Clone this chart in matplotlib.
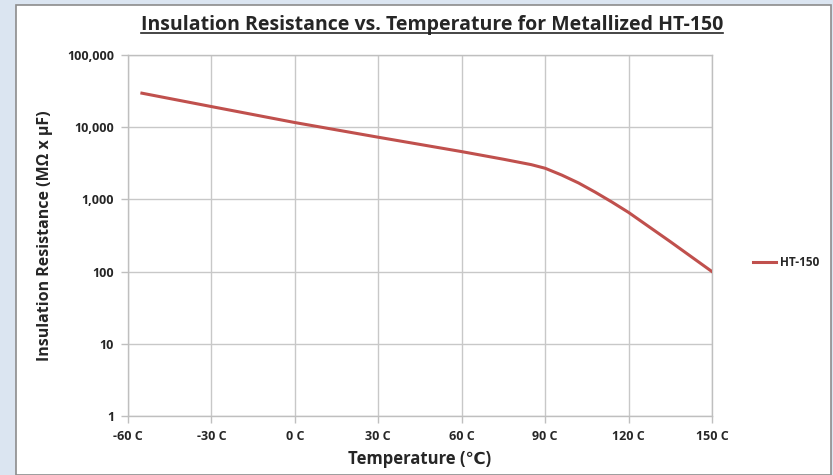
import matplotlib
matplotlib.use('Agg')
import matplotlib.pyplot as plt
from matplotlib.patches import Rectangle
from matplotlib.lines import Line2D
from matplotlib.ticker import FixedLocator, FuncFormatter

# データ
temps = [-55, -30, 0, 30, 60, 75, 85, 90, 96, 102, 108, 114, 120, 135, 150]
ir_ht150 = [29600, 19300, 11600, 7260, 4590, 3600, 3030, 2700, 2170, 1690, 1260, 920, 660, 260, 100]

x_ticks = [-60, -30, 0, 30, 60, 90, 120, 150]
x_labels = ['-60 C', '-30 C', '0 C', '30 C', '60 C', '90 C', '120 C', '150 C']
y_ticks = [1, 10, 100, 1000, 10000, 100000]

title = 'Insulation Resistance vs. Temperature for Metallized HT-150'
font = 'Open Sans'
txt_col = '#262626'

fig = plt.figure(figsize=(8.33, 4.75), dpi=100)
fig.patch.set_facecolor('#dbe5f1')
# 白いパネル
fig.patches.append(Rectangle((16 / 833, 0), 815 / 833, 1 - 5 / 475, transform=fig.transFigure,
                             facecolor='white', edgecolor='#8c8c8c', linewidth=1.2, zorder=-5))

ax = fig.add_axes([128 / 833, 1 - 416 / 475, 584 / 833, 361 / 475])
ax.set_zorder(2)
ax.set_facecolor('white')
ax.plot(temps, ir_ht150, color='#c0504d', linewidth=2.2, label='HT-150', zorder=3)

ax.set_yscale('log')
ax.set_xlim(-60, 150)
ax.set_ylim(1, 100000)
ax.xaxis.set_major_locator(FixedLocator(x_ticks))
ax.set_xticklabels(x_labels)
ax.yaxis.set_major_locator(FixedLocator(y_ticks))
ax.yaxis.set_minor_locator(FixedLocator([]))
ax.yaxis.set_major_formatter(FuncFormatter(lambda v, p: f'{int(round(v)):,}'))

ax.grid(True, color='#c8c8c8', linewidth=1.0)
for s in ax.spines.values():
    s.set_color('#bfbfbf')
    s.set_linewidth(1.0)
ax.tick_params(axis='both', which='major', length=5, color='#bfbfbf', width=1.0,
               labelsize=9, labelcolor=txt_col, pad=5)
for lbl in ax.get_xticklabels() + ax.get_yticklabels():
    lbl.set_fontweight('bold')
    lbl.set_fontfamily(font)

ax.set_xlabel('Temperature (℃)', fontsize=12, fontweight='bold', color=txt_col,
              family=[font, 'DejaVu Sans'], labelpad=5)
ax.set_ylabel('Insulation Resistance (MΩ x µF)', fontsize=11.5, fontweight='bold', color=txt_col,
              family=[font, 'DejaVu Sans'], labelpad=10)

t = fig.text(432 / 833, 1 - 25 / 475, title, ha='center', va='center', fontsize=14,
             fontweight='bold', color=txt_col, family=font)

leg = fig.legend(handles=[Line2D([], [], color='#c0504d', linewidth=2.2)], labels=['HT-150'],
                 loc='center left', bbox_to_anchor=(742 / 833, 1 - 263 / 475), frameon=False,
                 handlelength=2.0, handletextpad=0.3, prop={'family': font, 'weight': 'bold', 'size': 8.5})
for tx in leg.get_texts():
    tx.set_color(txt_col)

# タイトル下線
fig.canvas.draw()
bb = t.get_window_extent().transformed(fig.transFigure.inverted())
fig.add_artist(Line2D([bb.x0, bb.x1], [bb.y0 + 0.004, bb.y0 + 0.004], transform=fig.transFigure,
                      color=txt_col, linewidth=1.2))

fig.savefig('out.png', dpi=100, facecolor=fig.get_facecolor())
